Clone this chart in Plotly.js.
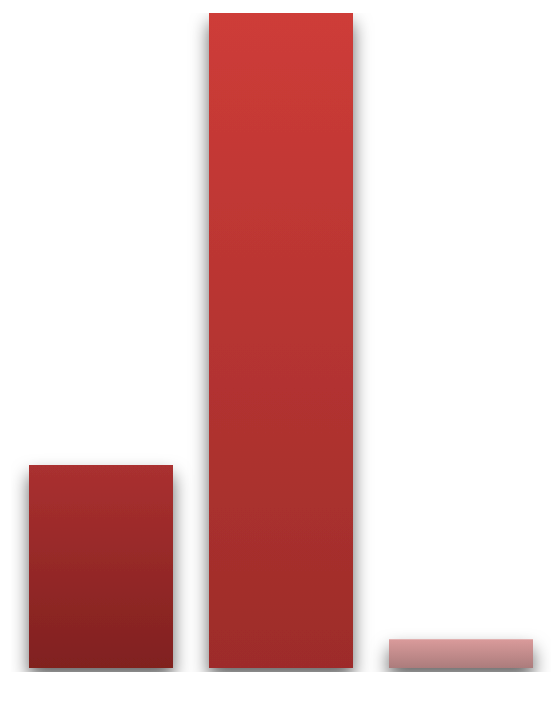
<!DOCTYPE html>
<html>
<head>
<meta charset="utf-8">
<script src="https://cdn.plot.ly/plotly-3.0.1.min.js"></script>
<style>
    html, body { margin: 0; padding: 0; background: #ffffff; }
    #chart { width: 560px; height: 710px; }
</style>
</head>
<body>
<div id="chart"></div>
<script>
// chart data (no labels shown in the picture)
const categories = ['A', 'B', 'C'];
const values = [31.0, 100, 4.4];

// per-bar vertical gradients: top colour -> bottom colour
const gradients = [
    ['#aa3030', '#80211f'],
    ['#ce3c38', '#9d2c2a'],
    ['#da9b9b', '#ab7c7c']
];

let data = [{
    type: 'bar',
    x: categories,
    y: values,
    marker: {
        color: gradients.map(g => g[0]),
        line: { width: 0 }
    },
    hoverinfo: 'none'
}];

let layout = {
    width: 560,
    height: 710,
    margin: { l: 11, r: 9, t: 13, b: 38 },
    paper_bgcolor: '#ffffff',
    plot_bgcolor: '#ffffff',
    bargap: 0.2,
    showlegend: false,
    xaxis: {
        type: 'category',
        range: [-0.5, 2.5],
        showgrid: false,
        zeroline: false,
        showline: false,
        showticklabels: false,
        ticks: ''
    },
    yaxis: {
        range: [-0.61, 100],
        showgrid: false,
        zeroline: false,
        showline: false,
        showticklabels: false,
        ticks: ''
    }
};

function el(ns, name, attrs) {
    const e = document.createElementNS(ns, name);
    Object.keys(attrs).forEach(k => e.setAttribute(k, attrs[k]));
    return e;
}

Plotly.newPlot('chart', data, layout, { staticPlot: true }).then(gd => {
    const ns = 'http://www.w3.org/2000/svg';
    const svg = gd.querySelector('.main-svg');
    let defs = svg.querySelector('defs');
    if (!defs) {
        defs = document.createElementNS(ns, 'defs');
        svg.insertBefore(defs, svg.firstChild);
    }
    // soft drop shadow, pushed down so nothing shows above the bar tops
    const filter = el(ns, 'filter', {
        id: 'barShadow', filterUnits: 'userSpaceOnUse',
        x: -100, y: -100, width: 800, height: 1000
    });
    filter.appendChild(el(ns, 'feGaussianBlur', { 'in': 'SourceAlpha', stdDeviation: 9, result: 'blur' }));
    filter.appendChild(el(ns, 'feOffset', { 'in': 'blur', dx: 0, dy: 10, result: 'off' }));
    filter.appendChild(el(ns, 'feFlood', { 'flood-color': '#000000', 'flood-opacity': 0.6, result: 'col' }));
    filter.appendChild(el(ns, 'feComposite', { 'in': 'col', in2: 'off', operator: 'in', result: 'shadow' }));
    const merge = el(ns, 'feMerge', {});
    merge.appendChild(el(ns, 'feMergeNode', { 'in': 'shadow' }));
    merge.appendChild(el(ns, 'feMergeNode', { 'in': 'SourceGraphic' }));
    filter.appendChild(merge);
    defs.appendChild(filter);

    gradients.forEach((g, i) => {
        const lg = el(ns, 'linearGradient', { id: 'barGrad' + i, x1: 0, y1: 0, x2: 0, y2: 1 });
        lg.appendChild(el(ns, 'stop', { offset: 0, 'stop-color': g[0] }));
        lg.appendChild(el(ns, 'stop', { offset: 1, 'stop-color': g[1] }));
        defs.appendChild(lg);
    });

    gd.querySelectorAll('.trace.bars .point path').forEach((p, i) => {
        p.style.fill = 'url(#barGrad' + i + ')';
        p.style.filter = 'url(#barShadow)';
    });
});
</script>
</body>
</html>
